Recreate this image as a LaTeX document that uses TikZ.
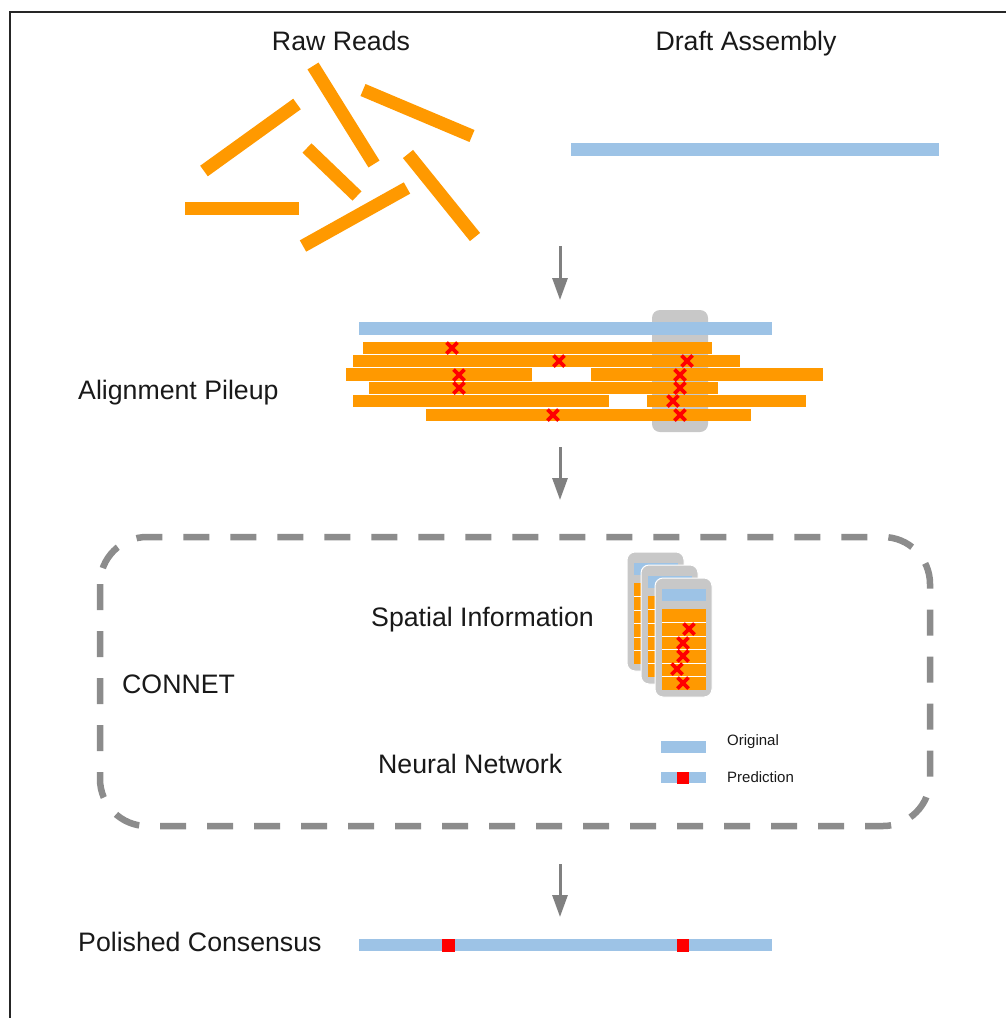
\documentclass[tikz,border=0pt]{standalone}
\usepackage{fontspec}
\setmainfont{Liberation Sans}
\usetikzlibrary{arrows.meta}
\definecolor{readorange}{RGB}{255,153,0}
\definecolor{refblue}{RGB}{157,195,230}
\definecolor{panelgray}{RGB}{200,200,200}
\definecolor{arrowgray}{RGB}{128,128,128}
\definecolor{dashgray}{RGB}{140,140,140}
\definecolor{errred}{RGB}{255,0,0}

\tikzset{
  lbl/.style={inner sep=0pt, font=\fontsize{26.7}{30}\selectfont, text=black!90},
  small/.style={inner sep=0pt, font=\fontsize{15}{18}\selectfont, text=black!90},
  read/.style={draw=readorange, line width=13pt, line cap=butt},
  row/.style={fill=readorange},
  ref/.style={fill=refblue},
  fix/.style={fill=errred},
  flow/.style={draw=arrowgray, line width=3pt, -{Triangle[length=22pt,width=15pt]}},
  xm/.pic={\draw[errred, line width=3.6pt] (-5.5,-5.5) -- (5.5,5.5) (-5.5,5.5) -- (5.5,-5.5);},
  card/.pic={
    \filldraw[fill=panelgray, draw=white, line width=1pt, rounded corners=8pt] (0,0) rectangle (57,119);
    \fill[refblue] (7,11) rectangle (51,23);
    \fill[readorange] (7,31) rectangle (51,112);
    \foreach \yy in {44.5,58,71.5,85,98.5} \draw[white, line width=0.8pt] (7,\yy) -- (51,\yy);
    \foreach \p in {(34,51),(28,65),(28,78),(22,91),(28,105)} \pic at \p {xm};
  }
}

\begin{document}
\begin{tikzpicture}[x=1pt,y=-1pt]
\useasboundingbox (0,0) rectangle (1006,1018);
\fill[white] (0,0) rectangle (1006,1018);

% frame lines on the left and top
\draw[line width=2pt, black!85] (9.5,1018) -- (9.5,12) -- (1006,12);

% headings
\node[lbl, anchor=base] (rawlbl) at (341,50) {Raw Reads};
\node[lbl, anchor=base] (draftlbl) at (746,50) {Draft Assembly};

% scattered raw reads
\draw[read] (204,171) -- (297,104);
\draw[read] (313,66) -- (374,164);
\draw[read] (363,90) -- (472,136);
\draw[read] (307,148) -- (357,196);
\draw[read] (185,208) -- (299,208);
\draw[read] (303,246) -- (407,188);
\draw[read] (408,154) -- (475,237);

% draft assembly
\fill[ref] (571,143) rectangle (939,156);

% arrow 1
\coordinate (a1s) at (560,246);
\coordinate (a1e) at (560,300);
\draw[flow] (a1s) -- (a1e);

% alignment pileup
\node[lbl, anchor=base west] (pilelbl) at (78,399) {Alignment Pileup};
\fill[panelgray, rounded corners=8pt] (652,310) rectangle (708,432);
\fill[ref] (359,322) rectangle (772,335);
\fill[row] (363,342) rectangle (712,354);
\fill[row] (353,355) rectangle (740,367);
\fill[row] (346,368) rectangle (532,381);
\fill[row] (591,368) rectangle (823,381);
\fill[row] (369,382) rectangle (718,394);
\fill[row] (353,395) rectangle (609,407);
\fill[row] (647,395) rectangle (806,407);
\fill[row] (426,409) rectangle (751,421);
\foreach \p in {(452,348),(559,361),(687,361),(459,375),(680,375),(459,388),(680,388),(673,401),(553,415),(680,415)}
  \pic at \p {xm};

% arrow 2
\coordinate (a2s) at (560,447);
\coordinate (a2e) at (560,500);
\draw[flow] (a2s) -- (a2e);

% CONNET module
\draw[dashgray, line width=6.5pt, dash pattern=on 26pt off 21pt, rounded corners=47pt] (100,537) rectangle (930,826);
\node[lbl, anchor=base west] (connet) at (122,693) {CONNET};
\node[lbl, anchor=base west] (spatial) at (371,626) {Spatial Information};
\node[lbl, anchor=base west] (neural) at (378,773) {Neural Network};

% stacked feature windows
\pic at (627,552) {card};
\pic at (641,565) {card};
\pic at (655,578) {card};

% legend
\fill[ref] (661,741) rectangle (706,753);
\node[small, anchor=base west] (orig) at (727,745) {Original};
\fill[ref] (661,772) rectangle (706,783);
\fill[fix] (677,771.5) rectangle (689,783.5);
\node[small, anchor=base west] (pred) at (727,782) {Prediction};

% arrow 3
\coordinate (a3s) at (560,864);
\coordinate (a3e) at (560,917);
\draw[flow] (a3s) -- (a3e);

% polished consensus
\node[lbl, anchor=base west] (pollbl) at (78,951) {Polished Consensus};
\fill[ref] (359,939) rectangle (772,951);
\fill[fix] (442,938.5) rectangle (455,951.5);
\fill[fix] (677,938.5) rectangle (689,951.5);
\end{tikzpicture}
\end{document}
